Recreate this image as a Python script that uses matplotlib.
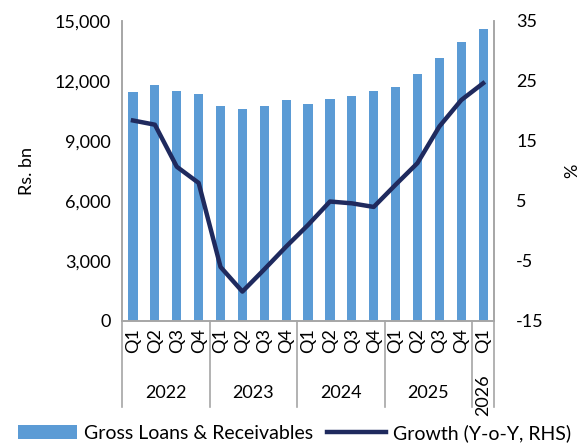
import numpy as np
import matplotlib.pyplot as plt
import matplotlib.transforms as mtransforms

plt.rcParams['font.family'] = ['Lato', 'DejaVu Sans']

# Данные
quarters = ['Q1', 'Q2', 'Q3', 'Q4', 'Q1', 'Q2', 'Q3', 'Q4', 'Q1', 'Q2', 'Q3', 'Q4',
            'Q1', 'Q2', 'Q3', 'Q4', 'Q1']
years = ['2022', '2023', '2024', '2025', '2026']
year_counts = [4, 4, 4, 4, 1]
loans = [11430, 11770, 11500, 11320, 10750, 10580, 10750, 11030, 10850, 11080,
         11250, 11480, 11700, 12350, 13150, 13950, 14580]
growth = [18.4, 17.7, 10.7, 8.0, -6.0, -10.1, -6.4, -2.6, 1.0, 4.9,
          4.6, 4.0, 7.7, 11.3, 17.4, 21.8, 24.6]
right_ticks = [-15, -5, 5, 15, 25, 35]

bar_color = '#5B9BD5'
line_color = '#1F2A5E'
grey = '#A6A6A6'
fs = 13

fig = plt.figure(figsize=(5.84, 4.48), dpi=100)
ax = fig.add_axes([0.209, 0.2835, 0.637, 0.670])
x = np.arange(len(loans))
bars = ax.bar(x, loans, width=0.42, color=bar_color, label='Gross Loans & Receivables')
ax.set_xlim(-0.5, len(loans) - 0.5)
ax.set_ylim(0, 15000)
ax.set_yticks(np.arange(0, 15001, 3000))
ax.set_yticklabels([f'{v:,}' for v in range(0, 15001, 3000)])
ax.set_ylabel('Rs. bn', fontsize=fs, labelpad=14)

ax2 = ax.twinx()
line, = ax2.plot(x, growth, color=line_color, linewidth=3.2,
                 solid_joinstyle='round', label='Growth (Y-o-Y, RHS)')
ax2.set_ylim(-15, 35)
ax2.set_yticks(right_ticks)
ax2.set_yticklabels([str(v) for v in right_ticks])
ax2.set_ylabel('%', fontsize=fs, labelpad=15)

for a in (ax, ax2):
    a.spines['top'].set_visible(False)
    for s in ('left', 'right', 'bottom'):
        a.spines[s].set_color(grey)
        a.spines[s].set_linewidth(1.2)
    a.tick_params(axis='y', length=0, labelsize=fs, pad=8)
ax2.tick_params(axis='y', pad=16)

ax.set_xticks(x)
ax.set_xticklabels(quarters, rotation=90, fontsize=fs)
ax.tick_params(axis='x', length=0, pad=5)

# Разделители лет и подписи годов
trans = mtransforms.blended_transform_factory(ax.transData, ax.transAxes)
edges = np.concatenate([[0], np.cumsum(year_counts)]) - 0.5
for e in edges:
    ax.plot([e, e], [0, -0.287], transform=trans, color=grey, linewidth=1.2,
            clip_on=False)
for i, yr in enumerate(years):
    c = (edges[i] + edges[i + 1]) / 2
    if year_counts[i] == 1:
        ax.text(c, -0.247, yr, transform=trans, rotation=90, ha='center',
                va='center', fontsize=fs)
    else:
        ax.text(c, -0.24, yr, transform=trans, ha='center', va='center',
                fontsize=fs)

fig.legend(handles=[bars, line], loc='lower center', ncol=2, frameon=False,
           fontsize=14, handlelength=3, columnspacing=0.7, handletextpad=0.4,
           bbox_to_anchor=(0.505, -0.025))

fig.savefig('out.png', dpi=100)
